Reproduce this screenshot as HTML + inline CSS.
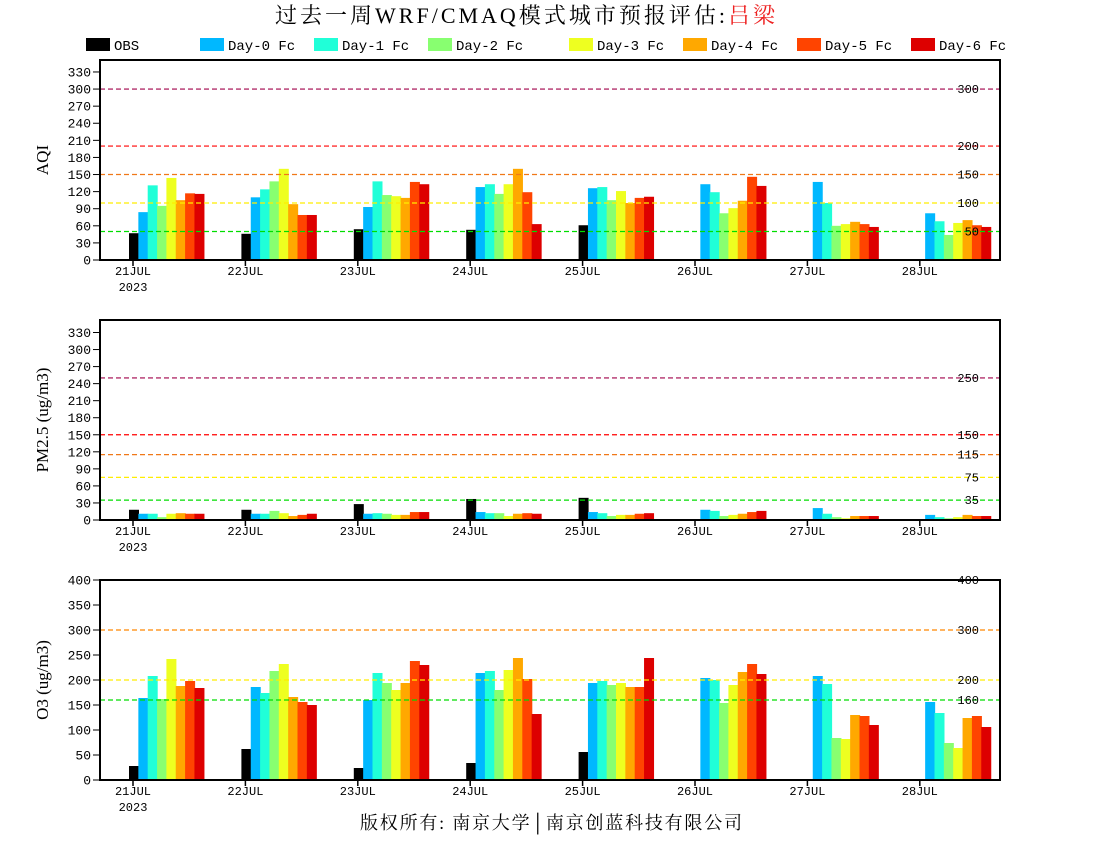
<!DOCTYPE html>
<html><head><meta charset="utf-8"><style>
body{margin:0;background:#fff;width:1100px;height:850px;overflow:hidden}
svg{display:block}
</style></head><body>
<svg id="chart" width="1100" height="850" xmlns="http://www.w3.org/2000/svg">
<text x="275" y="23" textLength="500" lengthAdjust="spacing" font-family="'Liberation Serif','Noto Serif CJK SC',serif" font-size="22">过去一周WRF/CMAQ模式城市预报评估:<tspan fill="#ee2222">吕梁</tspan></text>
<text x="360" y="829" textLength="382" lengthAdjust="spacing" font-family="'Liberation Serif','Noto Serif CJK SC',serif" font-size="18">版权所有: 南京大学│南京创蓝科技有限公司</text>
<g id="legend"></g>
<g id="plots"></g>
</svg>
<script>
const days = ["21JUL","22JUL","23JUL","24JUL","25JUL","26JUL","27JUL","28JUL"];
const seriesNames = ["OBS","Day-0 Fc","Day-1 Fc","Day-2 Fc","Day-3 Fc","Day-4 Fc","Day-5 Fc","Day-6 Fc"];
const seriesColors = ["#000000","#00b8ff","#20ffd8","#88ff70","#eeff20","#ffa800","#ff4400","#dd0000"];
const aqiTicks = [0,30,60,90,120,150,180,210,240,270,300,330];
const pmTicks = [0,30,60,90,120,150,180,210,240,270,300,330];
const o3Ticks = [0,50,100,150,200,250,300,350,400];
const aqiValues = [
 [47,84,131,95,144,105,117,116],
 [46,110,124,138,160,98,79,79],
 [54,93,138,114,112,109,137,133],
 [53,128,133,116,133,160,119,63],
 [61,126,128,105,121,100,109,111],
 [null,133,119,82,91,104,146,130],
 [null,137,100,60,63,67,63,58],
 [null,82,68,44,65,70,61,58]
];
const pmValues = [
 [18,11,11,5,11,12,11,11],
 [18,11,11,16,12,7,9,11],
 [28,11,12,11,9,9,14,14],
 [37,14,12,12,7,11,12,11],
 [39,14,12,7,9,9,11,12],
 [null,18,16,7,9,11,14,16],
 [null,21,11,5,3,7,7,7],
 [null,9,5,3,5,9,7,7]
];
const o3Values = [
 [28,164,208,162,242,188,198,184],
 [62,186,174,218,232,166,156,150],
 [24,160,214,194,180,194,238,230],
 [34,214,218,180,220,244,202,132],
 [56,194,198,190,194,186,186,244],
 [null,204,200,154,190,216,232,212],
 [null,208,192,84,82,130,128,110],
 [null,156,134,74,64,124,128,106]
];
const aqiRefs = [300,200,150,100,50];
const aqiRefColors = ["#a0004a","#ff0000","#f07818","#ffee00","#00dd00"];
const pmRefs = [250,150,115,75,35];
const pmRefColors = ["#a0004a","#ff0000","#f07818","#ffee00","#00dd00"];
const o3Refs = [400,300,200,160];
const o3Refcolors = ["#ff0000","#ff8800","#ffee00","#00dd00"];

const NS="http://www.w3.org/2000/svg";
const svg=document.getElementById('chart');
function el(tag,attrs,parent){const e=document.createElementNS(NS,tag);for(const k in attrs)e.setAttribute(k,attrs[k]);(parent||svg).appendChild(e);return e;}

const legX=[86,200,314,428,569,683,797,911];
const lg=document.getElementById('legend');
seriesNames.forEach((n,i)=>{
  const r=el('rect',{x:legX[i],y:38,width:24,height:13,fill:seriesColors[i]},lg);
  
  
  const t=el('text',{x:legX[i]+28,y:50,'font-family':"'Liberation Mono',monospace",'font-size':14},lg);
  t.textContent=n;
  
  
});

const X0=100,X1=1000,DAYW=112.4,G0=129,BSTEP=9.35,BW=10;
function xTick(i){return 133+i*DAYW;}
function xBar(i,k){return G0+i*DAYW+k*BSTEP;}

function panel(name,top,bottom,maxV,ticks,values,refs,refColors,title){
  const g=el('g',{});
  
  
  const y=v=>bottom-(v/maxV)*(bottom-top);
  values.forEach((row,i)=>row.forEach((v,k)=>{
    if(v==null)return;
    const b=el('rect',{x:xBar(i,k),y:y(v),width:BW,height:bottom-y(v),fill:seriesColors[k]},g);
    
    
  }));
  refs.forEach((r,j)=>{
    const l=el('line',{x1:X0,x2:X1,y1:y(r),y2:y(r),stroke:refColors[j],'stroke-width':1.2,'stroke-dasharray':'5,3'},g);
    
    
    const t=el('text',{x:979,y:y(r)+4,'text-anchor':'end','font-family':"'Liberation Mono',monospace",'font-size':12},g);
    t.textContent=r;
    
    
  });
  const f=el('rect',{x:X0,y:top,width:X1-X0,height:bottom-top,fill:'none',stroke:'#000','stroke-width':2},g);
  
  
  ticks.forEach(v=>{
    el('line',{x1:93,x2:X0,y1:y(v),y2:y(v),stroke:'#000','stroke-width':1},g);
    const t=el('text',{x:91,y:y(v)+4.5,'text-anchor':'end','font-family':"'Liberation Mono',monospace",'font-size':13},g);
    t.textContent=v;
    
    
  });
  days.forEach((d,i)=>{
    el('line',{x1:xTick(i),x2:xTick(i),y1:bottom,y2:bottom+6,stroke:'#000','stroke-width':1.5},g);
    const t=el('text',{x:xTick(i),y:bottom+15,'text-anchor':'middle','font-family':"'Liberation Mono',monospace",'font-size':12},g);
    t.textContent=d;
    
    
  });
  const yr=el('text',{x:xTick(0),y:bottom+31,'text-anchor':'middle','font-family':"'Liberation Mono',monospace",'font-size':12},g);
  yr.textContent='2023';
  
  
  const cy=(top+bottom)/2;
  const tt=el('text',{x:48,y:cy,transform:`rotate(-90 48 ${cy})`,'text-anchor':'middle','font-family':"'Liberation Serif',serif",'font-size':17},g);
  tt.textContent=title;
  
  
}
panel('aqi',60,260,351,aqiTicks,aqiValues,aqiRefs,aqiRefColors,'AQI');
panel('pm25',320,520,352,pmTicks,pmValues,pmRefs,pmRefColors,'PM2.5 (ug/m3)');
panel('o3',580,780,400,o3Ticks,o3Values,o3Refs,o3Refcolors,'O3 (ug/m3)');
</script>
</body></html>
